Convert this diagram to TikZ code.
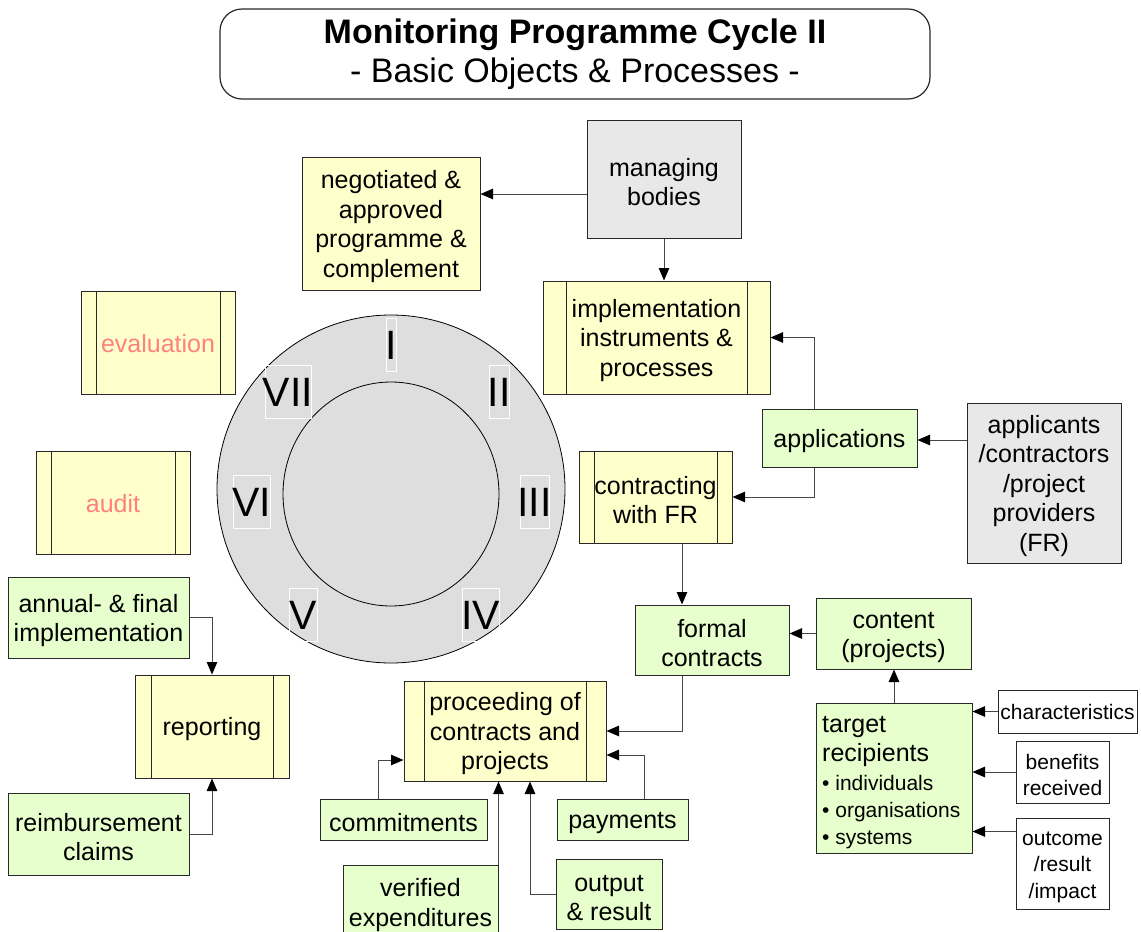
\documentclass[tikz,border=0pt]{standalone}
\usepackage{fontspec}
\setmainfont{Liberation Sans}
\usetikzlibrary{arrows.meta}

\definecolor{yelfill}{RGB}{255,255,204}
\definecolor{grnfill}{RGB}{230,255,204}
\definecolor{gryfill}{RGB}{232,232,232}
\definecolor{clockfill}{RGB}{222,222,222}
\definecolor{edge}{RGB}{40,40,40}
\definecolor{wire}{RGB}{70,70,70}
\definecolor{salmon}{RGB}{255,128,128}

% raised first line, so that box text sits a little low as in the drawing style
\newcommand\fl{\rule{0pt}{24pt}}
\newcommand\fs{\rule{0pt}{21pt}}

\tikzset{
  base/.style={draw=edge, line width=1pt, inner sep=0pt, align=center,
    font=\fontsize{25}{29.5}\selectfont},
  yel/.style={base, fill=yelfill},
  grn/.style={base, fill=grnfill},
  gry/.style={base, fill=gryfill},
  wht/.style={base, fill=white, font=\fontsize{21}{26.5}\selectfont},
  % predefined-process box: two inner vertical bars set in by #1
  predef/.style={yel, path picture={
      \draw[edge, line width=1pt]
        ([xshift=#1]path picture bounding box.north west) --
        ([xshift=#1]path picture bounding box.south west);
      \draw[edge, line width=1pt]
        ([xshift=-#1]path picture bounding box.north east) --
        ([xshift=-#1]path picture bounding box.south east);}},
  conn/.style={draw=wire, line width=1pt,
    -{Triangle[length=12.5pt,width=10.5pt,color=black]}},
  numbox/.style={draw=white, line width=0.8pt, inner sep=0pt},
  numeral/.style={inner sep=0pt, font=\fontsize{41}{41}\selectfont},
  plain/.style={inner sep=0pt, anchor=north west, align=left},
}

\begin{document}
\begin{tikzpicture}[x=1pt,y=-1pt]
\useasboundingbox (0,0) rectangle (1141,932);

% heading
\node[draw=edge, line width=1.2pt, rounded corners=22pt, minimum width=710pt,
      minimum height=90pt, inner sep=0pt, align=center,
      font=\fontsize{34}{39}\selectfont] (title) at (575,54)
  {\textbf{Monitoring Programme Cycle II}\\- Basic Objects \& Processes -};

% cycle dial
\path[draw=black, line width=0.8pt, fill=clockfill] (391,489) circle[radius=174pt];
\path[draw=black, line width=0.8pt] (391,494) ellipse[x radius=108pt, y radius=112pt];
\foreach \nm/\cx/\cy/\w/\t in {n1/391/345/10/I, n2/499/392/20/II, n3/534.5/502/29/III,
    n4/480.5/615/37/IV, n5/303/615/28/V, n6/251.5/502/37/VI, n7/288/392/46/VII}{
  \node[numbox, minimum width=\w pt, minimum height=53pt] (\nm box) at (\cx,\cy) {};
  \node[numeral] (\nm) at (\cx,\cy) {\t};
}

% upper part
\node[gry, minimum width=154pt, minimum height=118pt] (mb) at (664,179) {\fl managing\\bodies};
\node[yel, minimum width=178pt, minimum height=133pt] (neg) at (391,223.5)
  {\fl negotiated \&\\approved\\programme \&\\complement};
\node[predef=23pt, minimum width=227pt, minimum height=113pt] (impl) at (656.5,337.5)
  {\fl implementation\\instruments \&\\processes};
\node[grn, minimum width=155pt, minimum height=58pt] (app) at (839.5,438) {\fl applications};
\node[gry, minimum width=154pt, minimum height=160pt] (appl) at (1044,483)
  {\fl applicants\\/contractors\\/project\\providers\\(FR)};
\node[predef=15pt, minimum width=153pt, minimum height=92pt] (contr) at (655.5,497)
  {\fl contracting\\with FR};

% evaluation and audit
\node[predef=15pt, minimum width=154pt, minimum height=103pt, text=salmon] (eval) at (158,342.5) {\rule{0pt}{21pt}evaluation};
\node[predef=15pt, minimum width=154pt, minimum height=103pt, text=salmon] (audit) at (113,502.5) {\rule{0pt}{21pt}audit};

% contracts and target recipients
\node[grn, minimum width=154pt, minimum height=70pt] (formal) at (712,640) {\fl formal\\contracts};
\node[grn, minimum width=155pt, minimum height=71pt] (content) at (893.5,633.5) {\fl content\\(projects)};
\node[grn, minimum width=156pt, minimum height=150pt] (target) at (894,778) {};
\node[plain, font=\fontsize{25}{29.5}\selectfont] (trhead) at (822,716) {target\\recipients};
\node[plain, font=\fontsize{21}{27}\selectfont] (trlist) at (822,775)
  {\textbullet\ individuals\\\textbullet\ organisations\\\textbullet\ systems};
\node[wht, minimum width=139pt, minimum height=43pt] (char) at (1067.5,711.5) {characteristics};
\node[wht, minimum width=93pt, minimum height=62pt] (ben) at (1062.5,772) {\fs benefits\\received};
\node[wht, minimum width=93pt, minimum height=91pt] (outc) at (1062.5,863.5) {\fs outcome\\/result\\/impact};

% project proceeding
\node[predef=20pt, minimum width=202pt, minimum height=100pt] (proc) at (505,731)
  {\fl proceeding of\\contracts and\\projects};
\node[grn, minimum width=167pt, minimum height=41pt] (comm) at (403.5,819.5) {\fl commitments};
\node[grn, minimum width=131pt, minimum height=41pt] (pay) at (622.5,819.5) {\fl payments};
\node[grn, minimum width=155pt, minimum height=74pt] (ver) at (420.5,902) {\fl verified\\expenditures};
\node[grn, minimum width=106pt, minimum height=70pt] (out) at (609,894) {\fl output\\\& result};

% reporting
\node[grn, minimum width=181pt, minimum height=81pt] (ann) at (98.5,617.5) {\fl annual- \& final\\implementation};
\node[predef=16pt, minimum width=154pt, minimum height=103pt] (rep) at (212,726.5) {\fl reporting};
\node[grn, minimum width=181pt, minimum height=82pt] (reimb) at (98.5,834) {\fl reimbursement\\claims};

% connectors
\draw[conn] ([yshift=-15pt]mb.west) -- ([yshift=-15pt]mb.west -| neg.east);
\draw[conn] (mb.south) -- (mb.south |- impl.north);
\draw[conn] ([xshift=-25.5pt]app.north) |- (impl.east);
\draw[conn] ([xshift=-25.5pt]app.south) |- (contr.east);
\draw[conn] ([yshift=-2pt]appl.west |- app.east) -- ([yshift=-2pt]app.east);
\draw[conn] ([xshift=26.5pt]contr.south) -- ([xshift=26.5pt]contr.south |- formal.north);
\draw[conn] (content.west) -- (content.west -| formal.east);
\draw[conn] (target.north) -- (target.north |- content.south);
\draw[conn] (char.west) -- (char.west -| target.east);
\draw[conn] (ben.west) -- (ben.west -| target.east);
\draw[conn] ([yshift=-14pt]outc.north west) -- ([yshift=-14pt]outc.north west -| target.east);
\draw[conn] ([xshift=-30pt]formal.south) |- (proc.east);
\draw[conn] ([xshift=21.5pt]pay.north) |- ([yshift=-24pt]proc.east);
\draw[conn] ([xshift=-25.5pt]comm.north) |- ([yshift=-29pt]proc.west);
\draw[conn] (ver.north east) -- (ver.north east |- proc.south);
\draw[conn] (out.west) -| ([xshift=25pt]proc.south);
\draw[conn] (ann.east) -| (rep.north);
\draw[conn] (reimb.east) -| (rep.south);
\end{tikzpicture}
\end{document}
